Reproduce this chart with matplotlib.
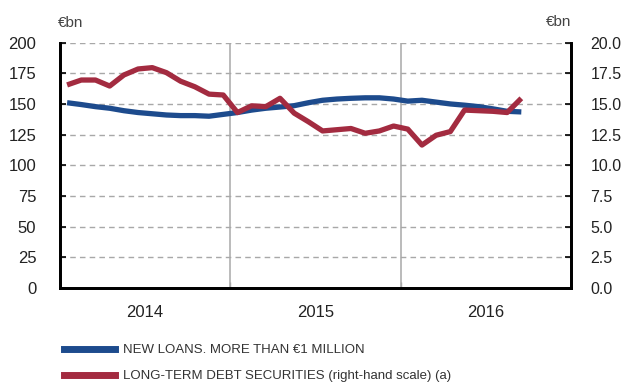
import matplotlib
matplotlib.use("Agg")
import matplotlib.pyplot as plt
from matplotlib.lines import Line2D

# ---- data (monthly, Jan 2014 .. Sep 2016) ----
years = ["2014", "2015", "2016"]
new_loans = [151, 149.5, 147.8, 146.5, 144.5, 143, 142, 141, 140.5, 140.5, 140, 141.5,
             143, 145, 146.5, 147.5, 148.6, 151, 153, 154, 154.6, 155, 155, 154,
             152.3, 153, 151.5, 150, 149, 147.8, 146, 144, 143.5]
debt_securities = [16.55, 16.95, 16.95, 16.46, 17.36, 17.85, 17.96, 17.55, 16.85, 16.4, 15.8, 15.73,
                   14.3, 14.85, 14.78, 15.46, 14.25, 13.55, 12.8, 12.9, 13.0, 12.61, 12.8, 13.2,
                   12.95, 11.65, 12.45, 12.75, 14.5, 14.45, 14.4, 14.3, 15.46]
left_ticks = [0, 25, 50, 75, 100, 125, 150, 175, 200]
right_ticks = [0.0, 2.5, 5.0, 7.5, 10.0, 12.5, 15.0, 17.5, 20.0]
legend_labels = ["NEW LOANS. MORE THAN €1 MILLION",
                 "LONG-TERM DEBT SECURITIES (right-hand scale) (a)"]

BLUE = "#1d4b8d"
RED = "#a32b40"
TXT = "#222222"
GRID = "#a8a8a8"

plt.rcParams['font.family'] = ['Liberation Sans', 'DejaVu Sans']

fig = plt.figure(figsize=(6.21, 3.83), dpi=100)
ax = fig.add_axes([60/621, 1-288/383, (571-60)/621, (288-42.6)/383])
ax2 = ax.twinx()

x = [i + 0.5 for i in range(len(new_loans))]
n_months = 12 * len(years)

ax.set_xlim(0, n_months)
ax.set_ylim(0, 200)
ax2.set_ylim(0, 20)

ax.set_yticks(left_ticks)
ax.set_yticklabels([str(t) for t in left_ticks])
ax2.set_yticks(right_ticks)
ax2.set_yticklabels([f"{t:.1f}" for t in right_ticks])

for t in left_ticks[1:]:
    ax.axhline(t, color=GRID, lw=1.0, ls=(0, (4, 3)), zorder=1)
for k in range(1, len(years)):
    ax.axvline(12 * k, color=GRID, lw=1.1, zorder=1)

ax.set_xticks([12 * k for k in range(len(years) + 1)])
ax.set_xticklabels([])
ax.set_xticks([12 * k + 6 for k in range(len(years))], minor=True)
ax.set_xticklabels(years, minor=True)
ax.tick_params(axis='x', which='major', length=4, direction='in', width=1, color=GRID)
ax.tick_params(axis='x', which='minor', length=0, pad=12, labelsize=12, labelcolor=TXT)
ax.tick_params(axis='y', length=4, direction='in', width=1.2, pad=17, labelsize=12, labelcolor=TXT)
ax2.tick_params(axis='y', length=4, direction='in', width=1.2, pad=14, labelsize=11.5, labelcolor=TXT)

for a in (ax, ax2):
    a.spines['top'].set_visible(False)
    for s in ('left', 'right', 'bottom'):
        a.spines[s].set_linewidth(2)
        a.spines[s].set_color('black')

ax.plot(x, new_loans, color=BLUE, lw=3.8, solid_capstyle='butt', zorder=3)
ax2.plot(x, debt_securities, color=RED, lw=3.8, solid_capstyle='butt', zorder=3)
ax2.set_zorder(ax.get_zorder() + 1)
ax2.patch.set_visible(False)

fig.text(58/621, 1-23/383, "€bn", ha='left', va='center', fontsize=11, color="#444444")
fig.text(571/621, 1-21.5/383, "€bn", ha='right', va='center', fontsize=11, color="#444444")

handles = [Line2D([], [], color=BLUE, lw=5), Line2D([], [], color=RED, lw=5)]
fig.legend(handles, legend_labels, loc='upper left', bbox_to_anchor=(64/621, 1-344/383),
           frameon=False, handlelength=3.9, handletextpad=0.6, labelspacing=1.05,
           borderpad=0, borderaxespad=0,
           prop={'family': ['Liberation Sans Narrow', 'Liberation Sans', 'DejaVu Sans'], 'size': 9.5},
           labelcolor="#333333")

fig.savefig("out.png", dpi=100)
